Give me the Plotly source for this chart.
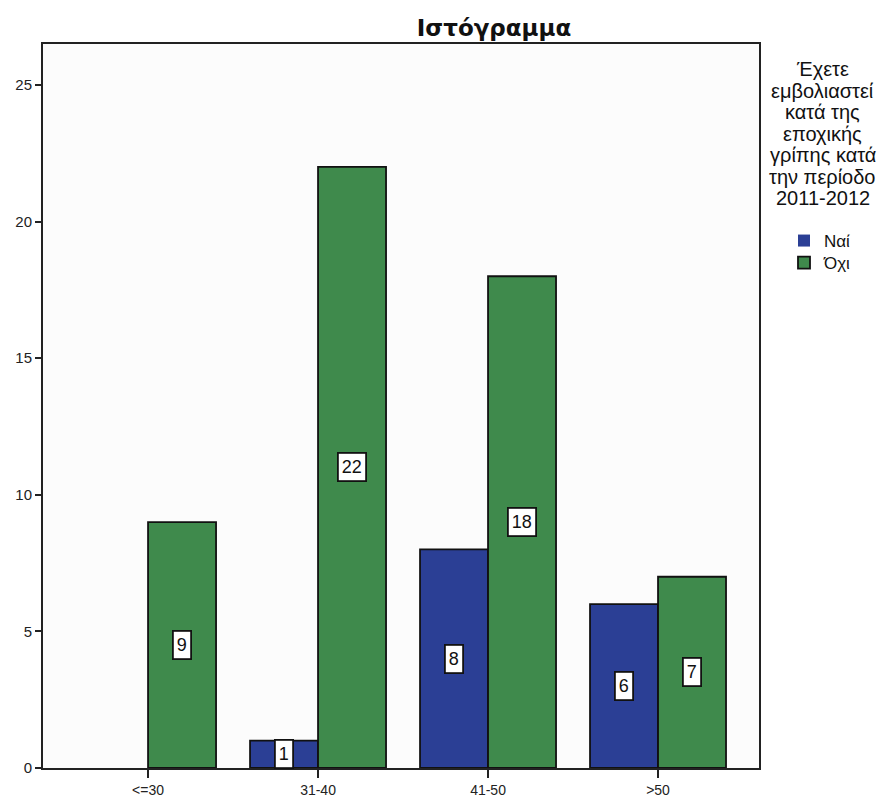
import plotly.graph_objects as go

categories = ["<=30", "31-40", "41-50", ">50"]
nai_values = [0, 1, 8, 6]
oxi_values = [9, 22, 18, 7]
series_names = ["Ναί", "Όχι"]
y_ticks = [0, 5, 10, 15, 20, 25]
title_text = "Ιστόγραμμα"
legend_title_lines = ["Έχετε", "εμβολιαστεί", "κατά της", "εποχικής",
                      "γρίπης κατά", "την περίοδο", "2011-2012"]

BLUE = "#2b3f95"
GREEN = "#3f8a4c"
FONT = "Liberation Sans, Arial, sans-serif"

# the page body has an 8px margin; work in screen pixels and convert
OFF = 8
W, H = 892 - OFF, 797 - OFF
PL, PR, PT, PB = 43, 759, 44, 768          # plot box in screen pixels
L, R, T, B = PL - OFF, W - (PR - OFF), PT - OFF, H - (PB - OFF)
pw, ph = W - L - R, H - T - B


def px_x(x):
    return (x - PL) / pw


def px_y(y):
    return 1 - (y - PT) / ph


fig = go.Figure()
for vals, name, col, lg in ((nai_values, series_names[0], BLUE, "legend"),
                            (oxi_values, series_names[1], GREEN, "legend2")):
    fig.add_trace(go.Bar(x=categories, y=vals, name=name, legend=lg, showlegend=True,
                         marker=dict(color=col,
                                     line=dict(color="#111111",
                                               width=[1.8 if v else 0 for v in vals]))))

annotations = []
for vals, shift in ((nai_values, -34), (oxi_values, 34)):
    for cat, v in zip(categories, vals):
        if v == 0:
            continue
        annotations.append(dict(x=cat, y=v / 2, xref="x", yref="y", text=str(v),
                                showarrow=False, xshift=shift,
                                font=dict(family=FONT, size=18, color="#111111"),
                                bgcolor="white", bordercolor="#111111",
                                borderwidth=1.8, borderpad=3))

for i, line in enumerate(legend_title_lines):
    annotations.append(dict(x=px_x(823), y=px_y(69 + i * 21.5), xref="paper", yref="paper",
                            text=line, showarrow=False, xanchor="center", yanchor="middle",
                            font=dict(family=FONT, size=20, color="#111111")))

leg_common = dict(xanchor="left", yanchor="middle", bgcolor="rgba(0,0,0,0)",
                  font=dict(family=FONT, size=17, color="#111111"), itemwidth=30)

fig.update_layout(
    width=W, height=H,
    margin=dict(l=L, r=R, t=T, b=B),
    paper_bgcolor="white", plot_bgcolor="#fcfcfc",
    showlegend=True,
    barmode="group", bargap=0.2, bargroupgap=0,
    title=dict(text="<b>" + title_text + "</b>", x=(494 - OFF) / W, xanchor="center",
               y=1 - (28 - OFF) / H, yanchor="middle",
               font=dict(family="DejaVu Sans, sans-serif", size=23, color="#111111")),
    font=dict(family=FONT, size=15, color="#111111"),
    legend=dict(x=px_x(784), y=px_y(241), **leg_common),
    legend2=dict(x=px_x(784), y=px_y(263), **leg_common),
    annotations=annotations,
    xaxis=dict(range=[-0.618, 3.594], showline=True, linecolor="#222222", linewidth=2,
               mirror=True, ticks="outside", ticklen=8, tickcolor="#222222",
               tickwidth=1.5, showgrid=False, zeroline=False, automargin=False,
               tickfont=dict(family=FONT, size=14, color="#222222")),
    yaxis=dict(range=[0, 26.5], tickvals=y_ticks, showline=True, linecolor="#222222",
               linewidth=2, mirror=True, ticks="outside", ticklen=6,
               tickcolor="#222222", tickwidth=1.5, showgrid=False, zeroline=False,
               automargin=False, tickfont=dict(family=FONT, size=15, color="#222222")),
)

fig.write_html("out.html")
